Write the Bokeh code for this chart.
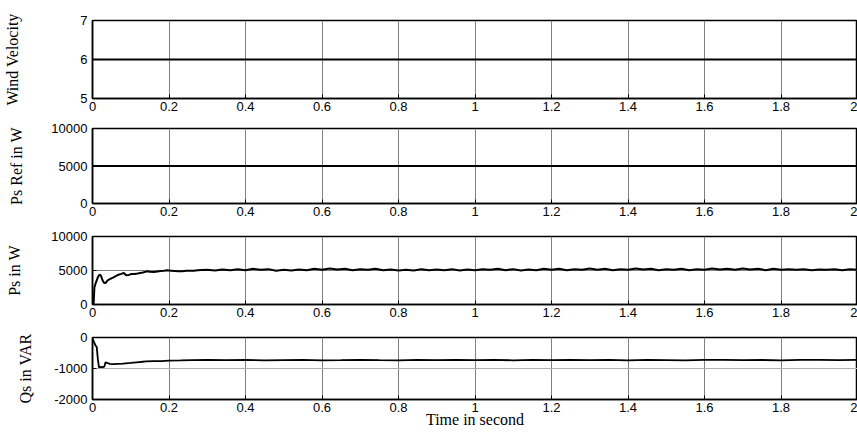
from bokeh.plotting import figure
from bokeh.layouts import column
from bokeh.models import FixedTicker, Range1d, CustomJSTickFormatter
from bokeh.embed import file_html
from bokeh.resources import INLINE

# ---------------- data ----------------
x_ticks = [0, 0.2, 0.4, 0.6, 0.8, 1, 1.2, 1.4, 1.6, 1.8, 2]

t_const = [0, 2]
wind_velocity = [6, 6]
ps_ref = [5000, 5000]

ps_t_start = [0, 0.003, 0.005, 0.007, 0.01, 0.014, 0.018, 0.022, 0.026, 0.03,
              0.034, 0.038, 0.042, 0.048, 0.055, 0.062, 0.068, 0.075, 0.082, 0.088,
              0.095, 0.102, 0.11, 0.118, 0.125, 0.132, 0.142, 0.15, 0.16, 0.17,
              0.178, 0.187, 0.195, 0.205, 0.215, 0.225, 0.235, 0.245, 0.255, 0.265,
              0.275, 0.285]
ps_v_start = [0, 150, 2500, 2900, 3400, 4000, 4380, 4250, 3600, 3200,
              3150, 3450, 3630, 3800, 3980, 4200, 4380, 4500, 4630, 4300,
              4350, 4480, 4500, 4560, 4630, 4700, 4875, 4800, 4776, 4850,
              4925, 4950, 5025, 4980, 4930, 4875, 4900, 4950, 4980, 4975,
              5050, 5075]
# Ps tail, sampled every 0.02 s from 0.30 s
ps_v_tail = [5100, 5000, 5150, 5050, 5200, 5050, 5250, 5100, 5200, 4950,
             5100, 5000, 5150, 5050, 5250, 5100, 5300, 5150, 5250, 5050,
             5200, 5100, 5250, 5050, 5150, 5000, 5100, 5000, 5200, 5050,
             5150, 5050, 5200, 5000, 5150, 5050, 5200, 5100, 5250, 5050,
             5200, 5000, 5150, 5050, 5250, 5100, 5250, 5050, 5200, 5100,
             5300, 5100, 5250, 5050, 5200, 5100, 5300, 5150, 5250, 5050,
             5200, 5100, 5250, 5050, 5200, 5100, 5300, 5150, 5250, 5100,
             5300, 5150, 5250, 5050, 5250, 5100, 5200, 5100, 5200, 5050,
             5150, 5100, 5200, 5050, 5200, 5100]

qs_t_start = [0, 0.004, 0.008, 0.011, 0.014, 0.017, 0.022, 0.027, 0.031, 0.034,
              0.038, 0.045, 0.055, 0.065, 0.08, 0.1, 0.115, 0.125, 0.14, 0.16,
              0.18, 0.2, 0.23, 0.26, 0.3]
qs_v_start = [-30, -150, -260, -300, -700, -960, -950, -960, -940, -800,
              -820, -850, -860, -850, -840, -820, -800, -790, -770, -760,
              -760, -745, -740, -730, -720]
# Qs tail, sampled every 0.05 s from 0.35 s
qs_v_tail = [-730, -725, -735, -730, -725, -735, -730, -720, -730, -735,
             -725, -730, -720, -730, -725, -735, -725, -730, -720, -730,
             -725, -735, -725, -730, -735, -725, -720, -730, -725, -735,
             -720, -725, -730, -720]

ps_t = ps_t_start + [round(0.30 + 0.02 * i, 3) for i in range(len(ps_v_tail))]
ps_v = ps_v_start + ps_v_tail
qs_t = qs_t_start + [round(0.35 + 0.05 * i, 3) for i in range(len(qs_v_tail))]
qs_v = qs_v_start + qs_v_tail

# ---------------- styling helpers ----------------
TICK_FONT = "Liberation Sans"
LABEL_FONT = "Liberation Serif"

xfmt = CustomJSTickFormatter(code="return String(Number(tick.toFixed(1)));")


def make(ylabel, yr, yticks, frame_h, top, bottom, ystandoff, xlabel=None):
    p = figure(frame_width=765, frame_height=frame_h,
               x_range=Range1d(0, 2), y_range=Range1d(*yr),
               output_backend="svg", toolbar_location=None,
               min_border_left=92, min_border_right=0,
               min_border_top=top, min_border_bottom=bottom)
    p.outline_line_color = "black"
    p.outline_line_width = 1.5
    p.background_fill_color = "white"
    p.border_fill_color = "white"

    p.xaxis.ticker = FixedTicker(ticks=x_ticks)
    p.xaxis.formatter = xfmt
    p.yaxis.ticker = FixedTicker(ticks=yticks)
    p.yaxis.formatter = CustomJSTickFormatter(code="return tick.toFixed(0);")
    for ax in (p.xaxis, p.yaxis):
        ax.axis_line_color = "black"
        ax.axis_line_width = 1.5
        ax.major_tick_in = 4
        ax.major_tick_out = 0
        ax.minor_tick_line_color = None
        ax.major_tick_line_color = "black"
        ax.major_label_text_font = TICK_FONT
        ax.major_label_text_font_size = "13px"
        ax.major_label_text_color = "black"
    p.xaxis.major_label_standoff = 3
    p.yaxis.major_label_standoff = 5

    p.yaxis.axis_label = ylabel
    p.yaxis.axis_label_text_font = LABEL_FONT
    p.yaxis.axis_label_text_font_size = "16px"
    p.yaxis.axis_label_text_font_style = "normal"
    p.yaxis.axis_label_text_color = "black"
    p.yaxis.axis_label_standoff = ystandoff
    if xlabel:
        p.xaxis.axis_label = xlabel
        p.xaxis.axis_label_text_font = LABEL_FONT
        p.xaxis.axis_label_text_font_size = "16px"
        p.xaxis.axis_label_text_font_style = "normal"
        p.xaxis.axis_label_text_color = "black"
        p.xaxis.axis_label_standoff = -4

    p.xgrid.ticker = FixedTicker(ticks=x_ticks)
    p.ygrid.ticker = FixedTicker(ticks=yticks)
    p.grid.grid_line_color = "#808080"
    p.grid.grid_line_width = 1
    return p


p1 = make("Wind Velocity", (5, 7), [5, 6, 7], 78, 20, 18, 56)
p1.line(t_const, wind_velocity, line_color="black", line_width=2)

p2 = make("Ps Ref in W", (0, 10000), [0, 5000, 10000], 75, 12, 18, 23)
p2.line(t_const, ps_ref, line_color="black", line_width=2)

p3 = make("Ps in W", (0, 10000), [0, 5000, 10000], 68, 15, 18, 25)
p3.line(ps_t, ps_v, line_color="black", line_width=2)

p4 = make("Qs in VAR", (-2000, 0), [-2000, -1000, 0], 62, 15, 18, 17,
          xlabel="Time in second")
p4.ygrid.grid_line_color = "#b0b0b0"
p4.line(qs_t, qs_v, line_color="black", line_width=1.8)

layout = column(p1, p2, p3, p4, spacing=0)

open("out.html", "w").write(file_html(layout, INLINE))
